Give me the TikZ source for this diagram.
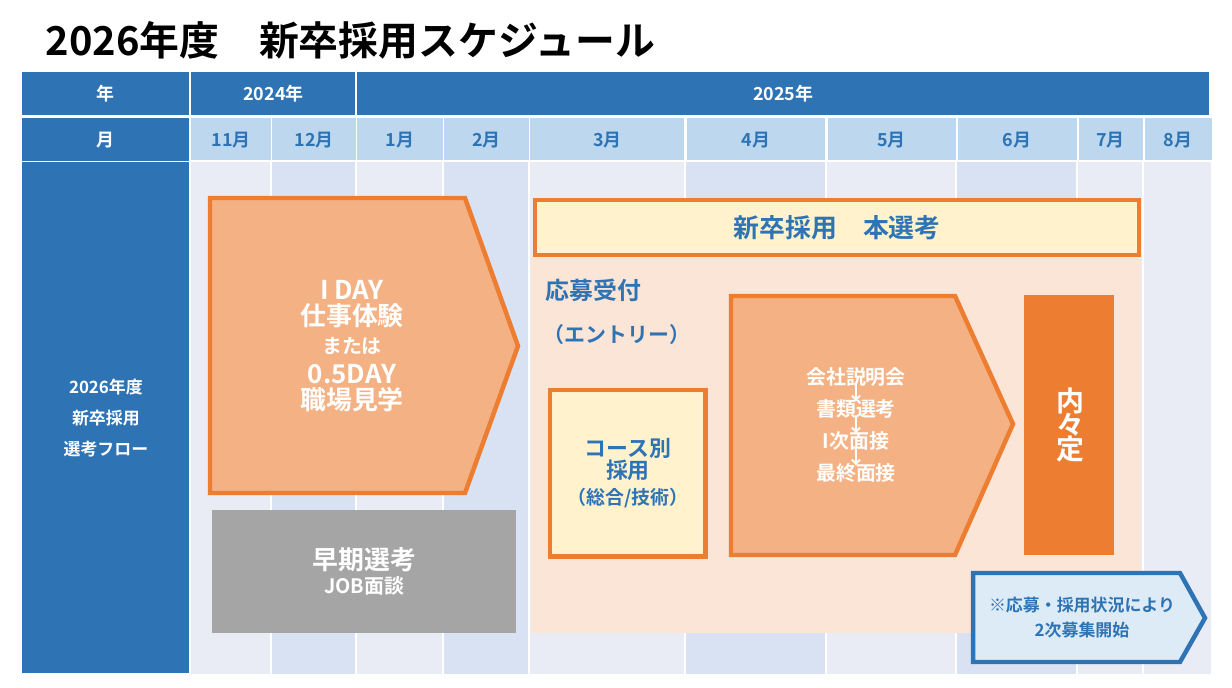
\documentclass[tikz,border=0pt]{standalone}
\usepackage{fontspec}
\setmainfont{Noto Sans CJK JP}[BoldFont={* Bold}]
\definecolor{hb}{HTML}{2E74B5}
\definecolor{mb}{HTML}{BDD7EE}
\definecolor{la}{HTML}{E9EBF5}
\definecolor{lb}{HTML}{D9E2F3}
\definecolor{or}{HTML}{ED7D31}
\definecolor{op}{HTML}{F4B183}
\definecolor{pe}{HTML}{FBE5D6}
\definecolor{cr}{HTML}{FFF2CC}
\definecolor{sb}{HTML}{DDEBF7}
\definecolor{gr}{HTML}{A5A5A5}
\newcommand{\fs}[1]{\fontsize{#1}{#1}\selectfont\bfseries}
\tikzset{
 hd/.style={fill=hb,draw=white,line width=1.5,text=white,font=\fs{18}},
 mh/.style={fill=mb,draw=white,line width=1.5,text=hb,font=\fs{18}},
 bodycol/.style={draw=white,line width=1.5},
 obox/.style={draw=or,line width=4.5},
 txt/.style={align=center,text=white},
}
\begin{document}
\begin{tikzpicture}[x=1bp,y=-1bp]
\useasboundingbox (0,0) rectangle (1232,688);
\fill[white] (0,0) rectangle (1232,688);
\node[anchor=west,font=\fs{40}] (title) at (42,40) {2026年度　新卒採用スケジュール};
% year row
\node[hd,minimum width=169,minimum height=44,inner sep=0,anchor=north west] (y0) at (21,71) {年};
\node[hd,minimum width=166,minimum height=44,inner sep=0,anchor=north west] (y1) at (190,71) {2024年};
\node[hd,minimum width=856,minimum height=44,inner sep=0,anchor=north west] (y2) at (356,71) {2025年};
% month row
\node[hd,minimum width=169,minimum height=44,inner sep=0,anchor=north west] (m0) at (21,117) {月};
\foreach \a/\b/\t [count=\i] in {190/271/11月,271/356/12月,356/443/1月,443/529/2月,529/685/3月,685/826/4月,826/956/5月,956/1077/6月,1077/1143/7月,1143/1212/8月}{
 \node[mh,minimum width=\b-\a,minimum height=44,inner sep=0,anchor=north west] (m\i) at (\a,117) {\t};
}
% body
\node[hd,minimum width=169,minimum height=514,inner sep=0,anchor=north west,align=center,font=\fs{17}] (b0) at (21,161) {2026年度\\[14pt]新卒採用\\[14pt]選考フロー};
\foreach \a/\b/\c in {190/271/la,271/356/lb,356/443/la,443/529/lb,529/685/la,685/826/lb,826/956/la,956/1077/lb,1077/1143/la,1143/1212/la}{
 \filldraw[fill=\c,bodycol] (\a,161) rectangle (\b,675);
}
% 1DAY
\draw[obox,fill=op] (210,198) -- (465,198) -- (518,346) -- (465,493) -- (210,493) -- cycle;
\node[txt,font=\fs{26}] (oneday) at (352,346) {I DAY\\仕事体験\\[2pt]{\fs{20}または}\\[4pt]0.5DAY\\職場見学};
% early
\node[fill=gr,minimum width=305,minimum height=123,inner sep=0,anchor=north west] (early) at (212,510) {};
\node[txt,font=\fs{26}] (earlyt) at (early.center) {早期選考\\[-2pt]{\fs{20}JOB面談}};
% peach
\fill[pe] (531,255) rectangle (1141,633);
\node[obox,fill=cr,minimum width=606,minimum height=55,inner sep=0,anchor=north west,text=hb,font=\fs{26}] (main) at (533,198) {新卒採用　本選考};
\node[anchor=west,text=hb,font=\fs{24}] (ent) at (542,290) {応募受付};
\node[anchor=west,text=hb,font=\fs{21}] (ent2) at (540,335) {（エントリー）};
\node[obox,fill=cr,minimum width=156,minimum height=167,inner sep=0,anchor=north west,text=hb,font=\fs{22},align=center] (course) at (548,388) {コース別\\採用\\[4pt]{\fs{19}（総合/技術）}};
% selection
\draw[obox,fill=op] (731,296) -- (955,296) -- (1013,424) -- (955,555) -- (731,555) -- cycle;
\node[txt,font=\fs{20}] (sel) at (856,425) {会社説明会\\[-4pt]↓\\[-4pt]書類選考\\[-4pt]↓\\[-4pt]I次面接\\[-4pt]↓\\[-4pt]最終面接};
\node[fill=or,minimum width=90,minimum height=261,inner sep=0,anchor=north west] (naitei) at (1024,295) {};
\node[txt,font=\fs{28}] at (1070,425) {内\\[-4pt]々\\[-4pt]定};
% second
\draw[draw=hb,line width=4.5,fill=sb] (973,573) -- (1180,573) -- (1205,618) -- (1180,662) -- (973,662) -- cycle;
\node[text=hb,font=\fs{17},align=center] (sec) at (1082,618) {※応募・採用状況により\\[8pt]2次募集開始};
\end{tikzpicture}
\end{document}
